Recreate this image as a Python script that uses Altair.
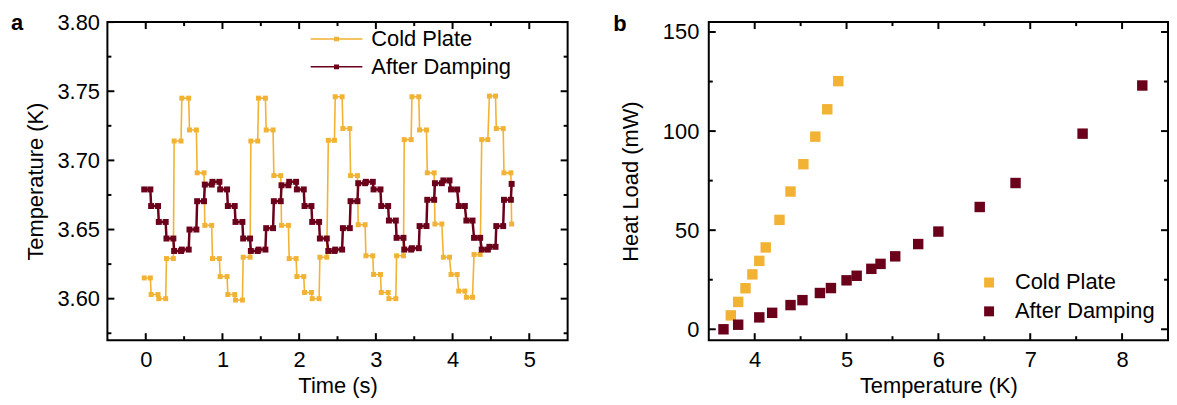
import altair as alt
import pandas as pd

FONT = "Liberation Sans"

# ---------------- panel a : temperature vs time ----------------
series_names = ["Cold Plate", "After Damping"]
series_colors = ["#F2B233", "#6B001A"]

# each reading is held for a short interval: start and end time of each hold (s)
hold_start = [-0.02, 0.07, 0.17, 0.27, 0.37, 0.47, 0.57, 0.67, 0.77, 0.87,
              0.97, 1.07, 1.17, 1.27, 1.37, 1.47, 1.57, 1.67, 1.77, 1.87,
              1.97, 2.07, 2.17, 2.27, 2.38, 2.47, 2.57, 2.67, 2.77, 2.87,
              2.97, 3.07, 3.17, 3.27, 3.37, 3.47, 3.57, 3.67, 3.77, 3.88,
              3.98, 4.08, 4.18, 4.28, 4.38, 4.48, 4.57, 4.67, 4.77]
hold_end = [0.06, 0.16, 0.26, 0.36, 0.46, 0.56, 0.66, 0.76, 0.86, 0.96,
            1.06, 1.16, 1.26, 1.36, 1.46, 1.56, 1.66, 1.76, 1.86, 1.96,
            2.06, 2.16, 2.26, 2.36, 2.46, 2.56, 2.66, 2.76, 2.86, 2.96,
            3.06, 3.16, 3.26, 3.36, 3.46, 3.56, 3.66, 3.76, 3.86, 3.96,
            4.06, 4.16, 4.26, 4.36, 4.46, 4.56, 4.66, 4.76]

cold_plate_temp = [3.615, 3.603, 3.600, 3.629, 3.714, 3.745, 3.722, 3.691, 3.653, 3.629,
                   3.616, 3.603, 3.599, 3.630, 3.714, 3.745, 3.722, 3.689, 3.653, 3.629,
                   3.616, 3.6045, 3.600, 3.630, 3.7145, 3.746, 3.723, 3.689, 3.6535, 3.631,
                   3.6175, 3.6045, 3.600, 3.631, 3.715, 3.746, 3.722, 3.691, 3.654, 3.630,
                   3.6175, 3.6055, 3.601, 3.632, 3.715, 3.7465, 3.723, 3.691, 3.654]
after_damping_temp = [3.679, 3.667, 3.6555, 3.6435, 3.6345, 3.6355, 3.650, 3.6705, 3.6825, 3.6845,
                      3.679, 3.667, 3.6555, 3.6435, 3.6345, 3.6355, 3.651, 3.6705, 3.682, 3.6845,
                      3.679, 3.667, 3.6555, 3.6435, 3.6345, 3.6355, 3.651, 3.6705, 3.6835, 3.6845,
                      3.679, 3.667, 3.6565, 3.644, 3.6355, 3.6365, 3.6525, 3.6715, 3.6835, 3.6855,
                      3.679, 3.667, 3.6565, 3.644, 3.6355, 3.6375, 3.6525, 3.6715, 3.683]

# ---------------- panel b : heat load vs temperature ----------------
cold_T = [3.74, 3.82, 3.90, 3.975, 4.05, 4.12, 4.27, 4.39, 4.53, 4.66, 4.79, 4.91]
cold_Q = [7.0, 13.8, 20.7, 27.7, 34.5, 41.3, 55.2, 69.5, 83.3, 97.2, 111.0, 125.2]
damp_T = [3.66, 3.82, 4.05, 4.19, 4.39, 4.52, 4.71, 4.83, 5.00, 5.11,
          5.27, 5.37, 5.53, 5.78, 6.00, 6.45, 6.84, 7.57, 8.22]
damp_Q = [0.0, 2.3, 6.0, 8.3, 12.2, 14.7, 18.3, 20.8, 24.7, 27.0,
          30.5, 33.0, 36.8, 43.0, 49.3, 61.7, 73.8, 98.7, 123.0]

# axis ranges and tick values
a_x_range = [-0.5, 5.5]
a_y_range = [3.57, 3.80]
b_x_range = [3.5, 8.5]
b_y_range = [-5.5, 155]
a_x_major = [0, 1, 2, 3, 4, 5]
a_x_minor = [0.5, 1.5, 2.5, 3.5, 4.5]
a_y_major = [3.60, 3.65, 3.70, 3.75, 3.80]
a_y_minor = [3.575, 3.625, 3.675, 3.725, 3.775]
b_x_major = [4, 5, 6, 7, 8]
b_x_minor = [4.5, 5.5, 6.5, 7.5]
b_y_major = [0, 50, 100, 150]
b_y_minor = [25, 75, 125]

# ---------------- tables ----------------
rows = []
for name, vals in zip(series_names, [cold_plate_temp, after_damping_temp]):
    for k, v in enumerate(vals):
        rows.append({"series": name, "time": hold_start[k], "temp": v})
        if k < len(hold_end):
            rows.append({"series": name, "time": hold_end[k], "temp": v})
df_a = pd.DataFrame(rows)

df_b = pd.DataFrame(
    [{"series": "Cold Plate", "T": t, "Q": q} for t, q in zip(cold_T, cold_Q)]
    + [{"series": "After Damping", "T": t, "Q": q} for t, q in zip(damp_T, damp_Q)]
)

MAJOR, MINOR = 7, 4
color_scale = alt.Scale(domain=series_names, range=series_colors)


def label_axis(orient, values, title, gap, title_pad, fmt):
    return alt.Axis(orient=orient, values=values, ticks=False, domain=False,
                    grid=False, labelFlush=False, labelPadding=gap, title=title,
                    titlePadding=title_pad, format=fmt)


def frame_and_ticks(xs, ys, W, H, x_major, x_minor, y_major, y_minor, xr, yr):
    """Inward ticks on all four sides and the box, drawn through the scales."""
    layers = []
    for vals, size in ((x_major, MAJOR), (x_minor, MINOR)):
        d = alt.Chart(pd.DataFrame({"v": vals}))
        enc_x = alt.X("v:Q", scale=xs)
        layers.append(d.mark_rule(color="black", strokeWidth=2).encode(
            x=enc_x, y=alt.value(H), y2=alt.value(H - size)))
        layers.append(d.mark_rule(color="black", strokeWidth=2).encode(
            x=enc_x, y=alt.value(0), y2=alt.value(size)))
    for vals, size in ((y_major, MAJOR), (y_minor, MINOR)):
        d = alt.Chart(pd.DataFrame({"v": vals}))
        enc_y = alt.Y("v:Q", scale=ys)
        layers.append(d.mark_rule(color="black", strokeWidth=2).encode(
            y=enc_y, x=alt.value(0), x2=alt.value(size)))
        layers.append(d.mark_rule(color="black", strokeWidth=2).encode(
            y=enc_y, x=alt.value(W), x2=alt.value(W - size)))
    box = alt.Chart(pd.DataFrame({"k": [0]})).mark_rect(
        filled=False, stroke="black", strokeWidth=2, fillOpacity=0).encode(
        x=alt.X(datum=xr[0], scale=xs),
        x2=alt.datum(xr[1]),
        y=alt.Y(datum=yr[0], scale=ys),
        y2=alt.datum(yr[1]))
    layers.append(box)
    return layers


# ---------------- panel a ----------------
WA, HA = 463, 320
ax_a = alt.Scale(domain=a_x_range, nice=False, zero=False)
ay_a = alt.Scale(domain=a_y_range, nice=False, zero=False)

legend_a = alt.Legend(
    title=None, orient="none", legendX=219.5, legendY=6, padding=0,
    symbolType="M-4,0H4M-0.385,-0.24H0.385M-0.385,0H0.385M-0.385,0.24H0.385",
    symbolSize=169, symbolStrokeWidth=1.6, labelOffset=24, rowPadding=6,
    labelFontSize=22, labelFont=FONT, labelColor="black",
)

base_a = alt.Chart(df_a)
cold_a = base_a.transform_filter(alt.datum.series == "Cold Plate")
damp_a = base_a.transform_filter(alt.datum.series == "After Damping")

a1 = cold_a.mark_line(strokeWidth=1.6).encode(
    x=alt.X("time:Q", scale=ax_a,
            axis=label_axis("bottom", a_x_major, "Time (s)", 9, 6, ".0f")),
    y=alt.Y("temp:Q", scale=ay_a,
            axis=label_axis("left", a_y_major, "Temperature (K)", 8, 9, ".2f")),
    color=alt.Color("series:N", scale=color_scale, legend=legend_a),
)
a2 = cold_a.mark_point(shape="square", filled=True, size=25, opacity=1).encode(
    x=alt.X("time:Q", scale=ax_a),
    y=alt.Y("temp:Q", scale=ay_a),
    color=alt.Color("series:N", scale=color_scale, legend=None),
)
a3 = damp_a.mark_line(strokeWidth=2.5).encode(
    x=alt.X("time:Q", scale=ax_a),
    y=alt.Y("temp:Q", scale=ay_a),
    color=alt.Color("series:N", scale=color_scale, legend=None),
)
a4 = damp_a.mark_point(shape="square", filled=True, size=36, opacity=1).encode(
    x=alt.X("time:Q", scale=ax_a),
    y=alt.Y("temp:Q", scale=ay_a),
    color=alt.Color("series:N", scale=color_scale, legend=None),
)
a_lab = alt.Chart(pd.DataFrame({"label": ["a"]})).mark_text(
    text="a", fontSize=22, fontWeight="bold", align="left", baseline="alphabetic",
    font=FONT, color="black").encode(x=alt.value(-97), y=alt.value(8))

panel_a = alt.layer(
    a1, a2, a3, a4,
    *frame_and_ticks(ax_a, ay_a, WA, HA, a_x_major, a_x_minor, a_y_major, a_y_minor,
                     a_x_range, a_y_range),
    a_lab,
).properties(width=WA, height=HA)

# ---------------- panel b ----------------
WB, HB = 462, 320
bx = alt.Scale(domain=b_x_range, nice=False, zero=False)
by = alt.Scale(domain=b_y_range, nice=False, zero=False)

legend_b = alt.Legend(
    title=None, orient="none", legendX=271, legendY=251, padding=0,
    symbolType="square", symbolSize=100, labelOffset=15, rowPadding=7,
    labelFontSize=22, labelFont=FONT, labelColor="black",
)

base_b = alt.Chart(df_b)
cold_b = base_b.transform_filter(alt.datum.series == "Cold Plate")
damp_b = base_b.transform_filter(alt.datum.series == "After Damping")

b1 = cold_b.mark_point(shape="square", filled=True, size=110, opacity=1).encode(
    x=alt.X("T:Q", scale=bx,
            axis=label_axis("bottom", b_x_major, "Temperature (K)", 9, 6, ".0f")),
    y=alt.Y("Q:Q", scale=by,
            axis=label_axis("left", b_y_major, "Heat Load (mW)", 10, 20, ".0f")),
    color=alt.Color("series:N", scale=color_scale, legend=legend_b),
)
b2 = damp_b.mark_point(shape="square", filled=True, size=110, opacity=1).encode(
    x=alt.X("T:Q", scale=bx),
    y=alt.Y("Q:Q", scale=by),
    color=alt.Color("series:N", scale=color_scale, legend=None),
)
b_lab = alt.Chart(pd.DataFrame({"label": ["b"]})).mark_text(
    text="b", fontSize=22, fontWeight="bold", align="left", baseline="alphabetic",
    font=FONT, color="black").encode(x=alt.value(-96), y=alt.value(9))

panel_b = alt.layer(
    b1, b2,
    *frame_and_ticks(bx, by, WB, HB, b_x_major, b_x_minor, b_y_major, b_y_minor,
                     b_x_range, b_y_range),
    b_lab,
).properties(width=WB, height=HB)

chart = (
    alt.hconcat(panel_a, panel_b, spacing=142, bounds="flush")
    .resolve_scale(color="independent")
    .properties(padding={"left": 3, "top": 2, "right": 0, "bottom": 0})
    .configure(font=FONT)
    .configure_view(strokeWidth=0)
    .configure_axis(labelFont=FONT, titleFont=FONT, labelFontSize=22,
                    titleFontSize=22, titleFontWeight="normal",
                    labelColor="black", titleColor="black")
    .configure_legend(labelFont=FONT)
)

chart.save("out.html", embed_options={"renderer": "svg", "actions": False})
